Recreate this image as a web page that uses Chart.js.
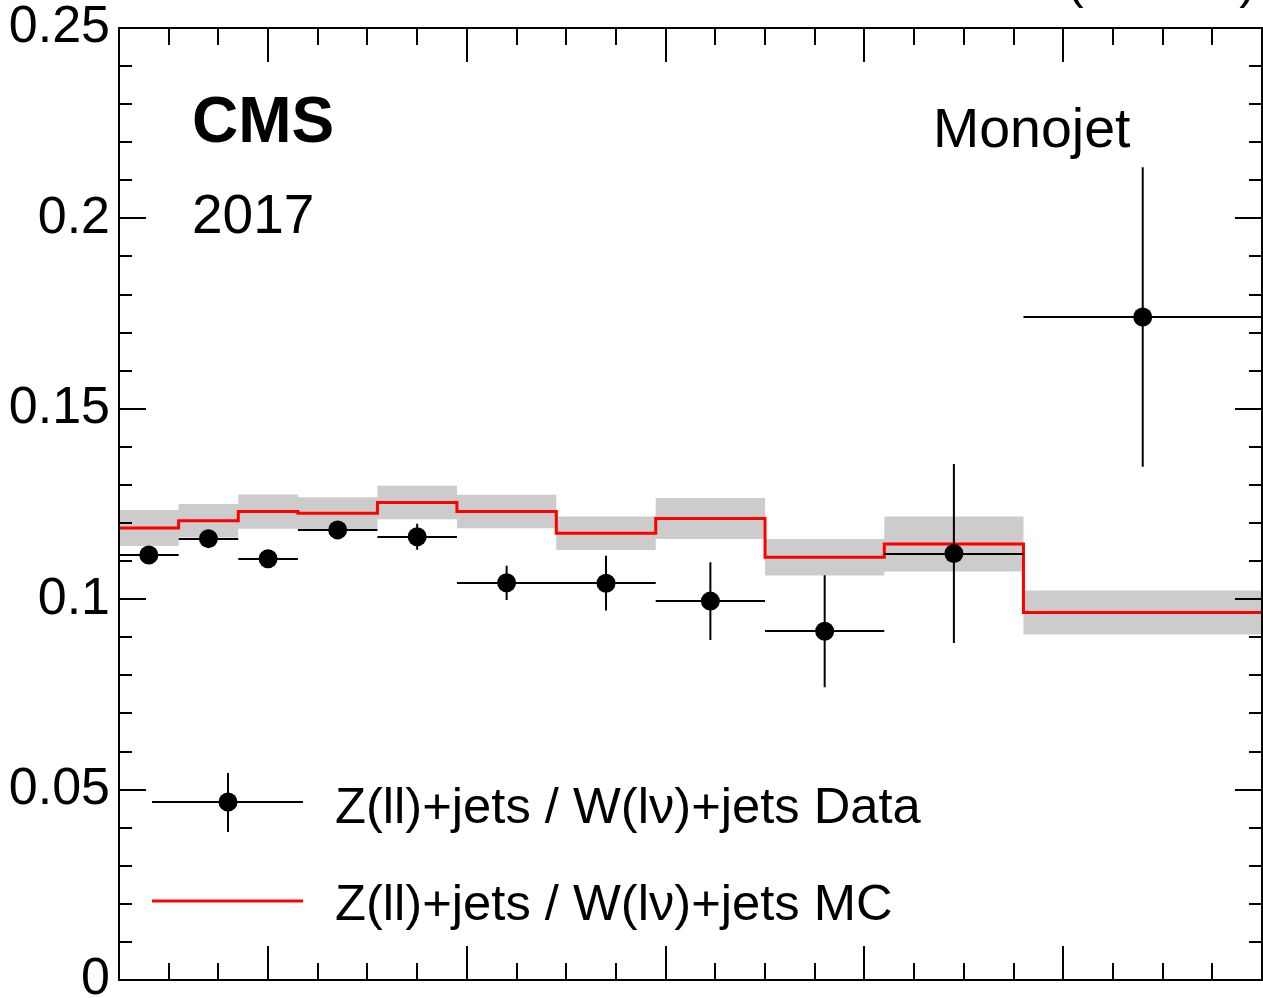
<!DOCTYPE html>
<html lang="en">
<head>
  <meta charset="UTF-8">
  <title>Z(ll)+jets / W(lv)+jets ratio - Monojet 2017</title>
  <script src="https://cdn.jsdelivr.net/npm/chart.js"></script>
  <style>
    html, body { margin: 0; padding: 0; background: #fff; overflow: hidden; }
    canvas { display: block; }
  </style>
</head>
<body>
<canvas id="ratioChart" width="1263" height="998"></canvas>

<script>
  // recoil bin edges (GeV), x axis runs 250 - 1400
  const binEdges = [250, 310, 370, 430, 510, 590, 690, 790, 900, 1020, 1160, 1400];

  // Z(ll)/W(lv) data ratio and its error per bin
  const dataRatio = [0.1116, 0.1159, 0.1106, 0.1182, 0.1164, 0.1043, 0.1042, 0.0995, 0.0916, 0.1120, 0.1741];
  const dataErr   = [0.0018, 0.0018, 0.0018, 0.0018, 0.0034, 0.0045, 0.0072, 0.0102, 0.0147, 0.0235, 0.0393];

  // MC ratio and its uncertainty (grey band, half width)
  const mcRatio = [0.1187, 0.1206, 0.1230, 0.1226, 0.1254, 0.1230, 0.1173, 0.1212, 0.1110, 0.1145, 0.0965];
  const mcUnc   = [0.0047, 0.0044, 0.0045, 0.0042, 0.0044, 0.0044, 0.0044, 0.0054, 0.0048, 0.0072, 0.0058];

  const yTickLabels = ['0', '0.05', '0.1', '0.15', '0.2', '0.25'];

  const FONT = '"Liberation Sans", Arial, Helvetica, sans-serif';

  // histogram-style points: one per lower edge, plus the last upper edge
  function stepPoints(vals) {
    const pts = vals.map((v, i) => ({ x: binEdges[i], y: v }));
    pts.push({ x: binEdges[binEdges.length - 1], y: vals[vals.length - 1] });
    return pts;
  }

  const dataPoints = dataRatio.map((v, i) => ({ x: (binEdges[i] + binEdges[i + 1]) / 2, y: v }));

  // frame + ROOT style inner ticks
  const framePlugin = {
    id: 'frame',
    afterDatasetsDraw(chart) {
      const { ctx, chartArea: a, scales: { x, y } } = chart;
      ctx.save();
      ctx.strokeStyle = '#000';
      ctx.lineWidth = 2;
      ctx.beginPath();
      for (let v = 300; v < 1400; v += 50) {
        const px = Math.round(x.getPixelForValue(v));
        const len = (v % 200 === 0) ? 34 : 17;
        ctx.moveTo(px, a.bottom); ctx.lineTo(px, a.bottom - len);
        ctx.moveTo(px, a.top); ctx.lineTo(px, a.top + len);
      }
      for (let k = 1; k < 25; k++) {
        const py = Math.round(y.getPixelForValue(k / 100));
        const len = (k % 5 === 0) ? 27 : 13;
        ctx.moveTo(a.left, py); ctx.lineTo(a.left + len, py);
        ctx.moveTo(a.right, py); ctx.lineTo(a.right - len, py);
      }
      ctx.stroke();
      ctx.strokeRect(a.left, a.top, a.right - a.left, a.bottom - a.top);

      // data error bars
      ctx.lineWidth = 2;
      ctx.beginPath();
      dataRatio.forEach((v, i) => {
        const x0 = x.getPixelForValue(binEdges[i]);
        const x1 = x.getPixelForValue(binEdges[i + 1]);
        const xc = x.getPixelForValue((binEdges[i] + binEdges[i + 1]) / 2);
        const yc = Math.round(y.getPixelForValue(v));
        ctx.moveTo(x0, yc); ctx.lineTo(x1, yc);
        ctx.moveTo(xc, y.getPixelForValue(v + dataErr[i]));
        ctx.lineTo(xc, y.getPixelForValue(v - dataErr[i]));
      });
      ctx.stroke();
      ctx.restore();
    },
    afterDraw(chart) {
      const ctx = chart.ctx;
      ctx.save();
      ctx.fillStyle = '#000';
      ctx.textAlign = 'left';
      ctx.textBaseline = 'alphabetic';

      ctx.font = 'bold 64px ' + FONT;
      ctx.fillText('CMS', 192, 142);
      ctx.font = '55px ' + FONT;
      ctx.fillText('2017', 192, 233);
      ctx.font = '55.5px ' + FONT;
      ctx.fillText('Monojet', 933, 147);

      ctx.font = '50px ' + FONT;
      ctx.textAlign = 'right';
      ctx.fillText('41.5 fb\u207B\u00B9 (13 TeV)', 1256, -2);

      // legend
      ctx.font = '50.7px ' + FONT;
      ctx.textAlign = 'left';
      ctx.fillText('Z(ll)+jets / W(l\u03BD)+jets Data', 335, 823);
      ctx.fillText('Z(ll)+jets / W(l\u03BD)+jets MC', 335, 920);

      ctx.strokeStyle = '#000';
      ctx.lineWidth = 2;
      ctx.beginPath();
      ctx.moveTo(152, 802); ctx.lineTo(303, 802);
      ctx.moveTo(228, 773); ctx.lineTo(228, 832);
      ctx.stroke();
      ctx.beginPath();
      ctx.arc(228, 802, 9.5, 0, Math.PI * 2);
      ctx.fill();

      ctx.strokeStyle = '#ff0000';
      ctx.lineWidth = 3;
      ctx.beginPath();
      ctx.moveTo(152, 901); ctx.lineTo(303, 901);
      ctx.stroke();
      ctx.restore();
    }
  };

  const config = {
    type: 'line',
    data: {
      datasets: [
        {
          label: 'Z(ll)+jets / W(l\u03BD)+jets Data',
          data: dataPoints,
          showLine: false,
          pointRadius: 9.5,
          pointHoverRadius: 9.5,
          pointBorderWidth: 0,
          pointBackgroundColor: '#000',
          borderColor: '#000',
          order: 0
        },
        {
          label: 'Z(ll)+jets / W(l\u03BD)+jets MC',
          data: stepPoints(mcRatio),
          stepped: 'before',
          borderColor: '#ff0000',
          borderWidth: 3,
          pointRadius: 0,
          fill: false,
          order: 1
        },
        {
          label: 'MC unc. up',
          data: stepPoints(mcRatio.map((v, i) => v + mcUnc[i])),
          stepped: 'before',
          borderColor: 'rgba(0,0,0,0)',
          borderWidth: 1,
          pointRadius: 0,
          backgroundColor: '#cccccc',
          fill: '+1',
          order: 2
        },
        {
          label: 'MC unc. down',
          data: stepPoints(mcRatio.map((v, i) => v - mcUnc[i])),
          stepped: 'before',
          borderColor: 'rgba(0,0,0,0)',
          borderWidth: 1,
          pointRadius: 0,
          fill: false,
          order: 3
        }
      ]
    },
    options: {
      responsive: false,
      animation: false,
      events: [],
      devicePixelRatio: 1,
      layout: { autoPadding: false, padding: { left: 0, top: 28, right: 1, bottom: 18 } },
      plugins: { legend: { display: false }, tooltip: { enabled: false } },
      scales: {
        x: { type: 'linear', min: 250, max: 1400, display: false },
        y: {
          type: 'linear',
          min: 0,
          max: 0.25,
          grid: { display: false, drawTicks: false },
          border: { display: false },
          ticks: {
            stepSize: 0.05,
            padding: 9,
            color: '#000',
            font: { family: FONT, size: 52, lineHeight: 1 },
            callback: (v, i) => yTickLabels[i]
          },
          afterFit(scale) {
            scale.width = 119;
            scale.paddingTop = 0;
            scale.paddingBottom = 0;
            scale.paddingLeft = 0;
            scale.paddingRight = 0;
          }
        }
      }
    },
    plugins: [framePlugin]
  };

  new Chart(document.getElementById('ratioChart').getContext('2d'), config);
</script>
</body>
</html>
